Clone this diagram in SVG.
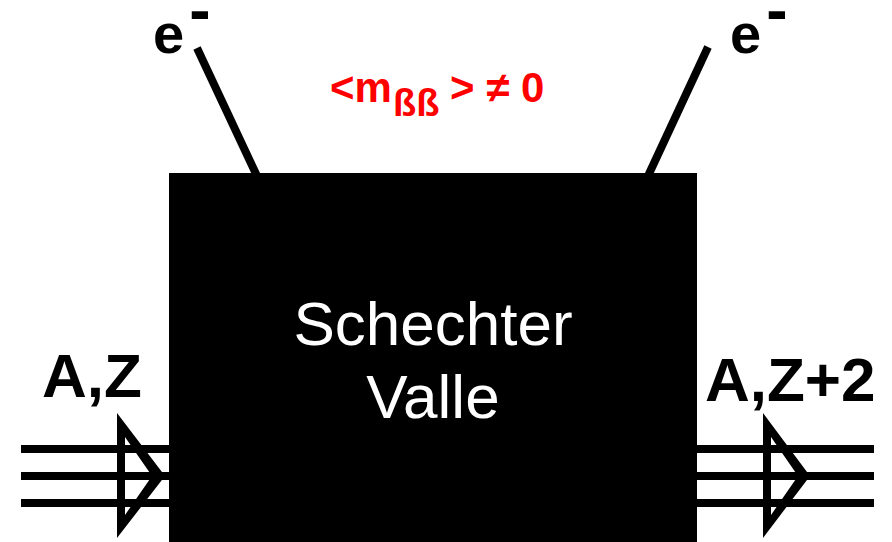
<svg xmlns="http://www.w3.org/2000/svg" width="892" height="542" viewBox="0 0 892 542">
<style>
.lbl{font-family:"Liberation Sans",Arial,sans-serif;font-weight:bold;fill:#000}
.in{font-family:"Liberation Sans",Arial,sans-serif;fill:#fff;font-size:62px}
.red{font-family:"Liberation Sans",Arial,sans-serif;font-weight:bold;fill:#ff0000}
.ln{stroke:#000;stroke-width:8;fill:none}
</style>
<rect width="892" height="542" fill="#fff"/>
<g id="connectors">
  <line class="ln" x1="197" y1="48" x2="257" y2="176"/>
  <line class="ln" x1="708" y1="47" x2="648" y2="176"/>
  <g id="in-arrow">
    <line class="ln" x1="21" y1="449" x2="170" y2="449"/>
    <line class="ln" x1="21" y1="476" x2="170" y2="476"/>
    <line class="ln" x1="21" y1="503" x2="170" y2="503"/>
    <path fill="#000" fill-rule="evenodd" d="M117,413 L165,476 L117,538 Z M125,437 L152,476 L125,515 Z"/>
  </g>
  <g id="out-arrow">
    <line class="ln" x1="696" y1="449" x2="874" y2="449"/>
    <line class="ln" x1="696" y1="476" x2="874" y2="476"/>
    <line class="ln" x1="696" y1="503" x2="874" y2="503"/>
    <path fill="#000" fill-rule="evenodd" d="M763,413 L810,476 L763,538 Z M771,437 L798,476 L771,515 Z"/>
  </g>
</g>
<g id="box">
  <rect x="169" y="173" width="528" height="369" fill="#000"/>
  <text class="in" x="433" y="345" text-anchor="middle">Schechter</text>
  <text class="in" x="433" y="418" text-anchor="middle">Valle</text>
</g>
<g id="e-left">
  <text class="lbl" font-size="56" x="153" y="53">e<tspan font-size="64" dx="5" dy="-21">-</tspan></text>
</g>
<g id="e-right">
  <text class="lbl" font-size="56" x="730" y="53">e<tspan font-size="64" dx="5" dy="-21">-</tspan></text>
</g>
<g id="mass">
  <text class="red" font-size="42" y="102"><tspan x="330">&lt;m</tspan><tspan x="393" font-size="38" dy="14">ßß</tspan><tspan x="450" dy="-14">&gt; ≠ 0</tspan></text>
</g>
<g id="az-left">
  <text class="lbl" font-size="62" x="42" y="397">A,Z</text>
</g>
<g id="az-right">
  <text class="lbl" font-size="62" x="705" y="401">A,Z+2</text>
</g>
</svg>
